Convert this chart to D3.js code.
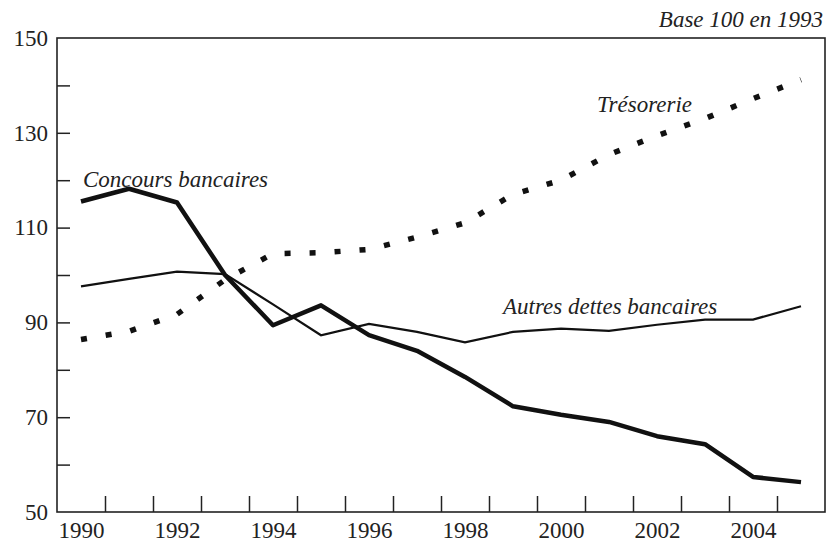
<!DOCTYPE html>
<html>
<head>
<meta charset="utf-8">
<script src="https://cdn.jsdelivr.net/npm/d3@7"></script>
<style>
  body { margin: 0; background: #fff; }
  svg text { font-family: "Liberation Serif", "Times New Roman", Times, "DejaVu Serif", serif !important; fill: #222; }
</style>
</head>
<body>
<div id="graph"></div>
<script>
// data, base 100 in 1993
const years = [1990, 1991, 1992, 1993, 1994, 1995, 1996, 1997, 1998, 1999, 2000, 2001, 2002, 2003, 2004, 2005];
const concours = [115.5, 118.2, 115.3, 100, 89.4, 93.6, 87.3, 84, 78.5, 72.3, 70.5, 69, 66, 64.3, 57.4, 56.3];
const autres = [97.6, 99.2, 100.7, 100.2, 93.8, 87.3, 89.7, 88, 85.8, 88, 88.7, 88.2, 89.5, 90.6, 90.6, 93.4];
const tresorerie = [86.4, 88.1, 91.7, 99, 104.5, 104.7, 105.4, 108, 111, 117, 120, 125.4, 129.4, 133, 137.2, 141.2];
const yLabels = [50, 70, 90, 110, 130, 150];
const yMinor = [60, 80, 100, 120, 140];
const xLabels = [1990, 1992, 1994, 1996, 1998, 2000, 2002, 2004];

const width = 827, height = 543;
const frame = {left: 57, right: 825, top: 38, bottom: 512};

let svg = d3.select("#graph")
    .append("svg")
    .attr("width", width)
    .attr("height", height);

// scales: each year gets one band, ticks sit between years
let x = d3.scaleLinear()
    .domain([years[0] - 0.5, years[years.length - 1] + 0.5])
    .range([frame.left, frame.right]);
let y = d3.scaleLinear()
    .domain([50, 150])
    .range([frame.bottom, frame.top]);

// frame
svg.append("rect")
    .attr("x", frame.left).attr("y", frame.top)
    .attr("width", frame.right - frame.left).attr("height", frame.bottom - frame.top)
    .attr("fill", "none").attr("stroke", "#222").attr("stroke-width", 1.6);

// x ticks between years
let boundaries = years.slice(1).map(d => d - 0.5);
svg.append("g")
    .attr("transform", `translate(0, ${frame.bottom})`)
    .call(d3.axisBottom(x).tickValues(boundaries).tickSizeInner(-16).tickSizeOuter(0).tickFormat(""))
    .call(g => g.select(".domain").remove())
    .call(g => g.selectAll("line").attr("stroke", "#222").attr("stroke-width", 1.5));

// x labels
svg.append("g")
    .attr("transform", `translate(0, ${frame.bottom})`)
    .attr("font-family", null)
    .call(d3.axisBottom(x).tickValues(xLabels).tickSize(0).tickPadding(10).tickFormat(d3.format("d")))
    .call(g => g.select(".domain").remove())
    .call(g => g.selectAll("text")
        .style("font-size", "23px")
        .attr("fill", "#222"));

// y ticks
svg.append("g")
    .attr("transform", `translate(${frame.left}, 0)`)
    .call(d3.axisLeft(y).tickValues(yMinor.concat(yLabels.slice(1, -1))).tickSizeInner(-13).tickSizeOuter(0).tickFormat(""))
    .call(g => g.select(".domain").remove())
    .call(g => g.selectAll("line").attr("stroke", "#222").attr("stroke-width", 1.5));

// y labels
svg.append("g")
    .attr("transform", `translate(${frame.left}, 0)`)
    .call(d3.axisLeft(y).tickValues(yLabels).tickSize(0).tickPadding(9))
    .call(g => g.select(".domain").remove())
    .call(g => g.selectAll("text")
        .style("font-size", "23px")
        .attr("fill", "#222"));

// lines
let line = d3.line()
    .x((d, i) => x(years[i]))
    .y(d => y(d));

svg.append("path")
    .datum(autres)
    .attr("d", line)
    .attr("fill", "none")
    .attr("stroke", "#111")
    .attr("stroke-width", 2.2);

svg.append("path")
    .datum(concours)
    .attr("d", line)
    .attr("fill", "none")
    .attr("stroke", "#111")
    .attr("stroke-width", 4.5)
    .attr("stroke-linejoin", "round");

svg.append("path")
    .datum(tresorerie)
    .attr("d", line)
    .attr("fill", "none")
    .attr("stroke", "#111")
    .attr("stroke-width", 5.5)
    .attr("stroke-dasharray", "6,19");

// series labels
let labels = [
    {text: "Concours bancaires", x: 83, y: 187, anchor: "start"},
    {text: "Trésorerie", x: 597, y: 112, anchor: "start"},
    {text: "Autres dettes bancaires", x: 503, y: 314, anchor: "start"},
    {text: "Base 100 en 1993", x: 823, y: 27, anchor: "end"}
];
svg.selectAll("text.lab")
    .data(labels)
    .enter()
    .append("text")
    .attr("class", "lab")
    .attr("x", d => d.x)
    .attr("y", d => d.y)
    .attr("text-anchor", d => d.anchor)
    .style("font-style", "italic")
    .style("font-size", "23px")
    .text(d => d.text);
</script>
</body>
</html>
